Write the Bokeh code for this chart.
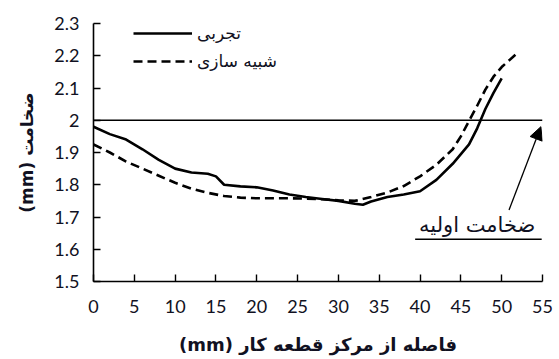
from bokeh.plotting import figure
from bokeh.models import Legend, LegendItem, Arrow, NormalHead, FixedTicker, Range1d
from bokeh.core.properties import value
from bokeh.embed import file_html
from bokeh.resources import INLINE

# ---- data ----
exp_x = [0, 2, 4, 6, 8, 10, 12, 14, 15, 16, 18, 20, 22, 24, 26, 28, 30, 32, 33, 34, 36, 38, 40, 42, 44, 46, 47, 48, 49, 50]
exp_y = [1.98, 1.957, 1.94, 1.91, 1.877, 1.85, 1.838, 1.834, 1.826, 1.800, 1.795, 1.792, 1.782, 1.770, 1.762, 1.756, 1.750, 1.741, 1.738, 1.748, 1.762, 1.770, 1.780, 1.815, 1.865, 1.925, 1.975, 2.035, 2.085, 2.13]

sim_x = [0, 2, 4, 6, 8, 10, 12, 14, 16, 18, 20, 22, 24, 26, 28, 30, 32, 34, 36, 38, 40, 42, 44, 45, 46, 47, 48, 49, 50, 52]
sim_y = [1.925, 1.90, 1.872, 1.85, 1.828, 1.806, 1.788, 1.775, 1.765, 1.760, 1.758, 1.758, 1.758, 1.757, 1.755, 1.752, 1.750, 1.762, 1.776, 1.796, 1.826, 1.862, 1.910, 1.950, 1.998, 2.045, 2.095, 2.135, 2.165, 2.21]

initial_x = [0, 55]
initial_y = [2.0, 2.0]

x_ticks = [0, 5, 10, 15, 20, 25, 30, 35, 40, 45, 50, 55]
y_ticks = [1.5, 1.6, 1.7, 1.8, 1.9, 2.0, 2.1, 2.2, 2.3]
y_tick_labels = {1.5: "1.5", 1.6: "1.6", 1.7: "1.7", 1.8: "1.8", 1.9: "1.9", 2.0: "2", 2.1: "2.1", 2.2: "2.2", 2.3: "2.3"}

label_exp = "تجربی"
label_sim = "شبیه سازی"
note_text = "ضخامت اولیه"
x_title = "(mm) فاصله از مرکز قطعه کار"
y_title = "(mm) ضخامت"

FONT = "Lato"
AFONT = "DejaVu Sans"
TXT = "#111122"

p = figure(width=557, height=357, output_backend="svg", toolbar_location=None,
           x_range=Range1d(0, 55), y_range=Range1d(1.5, 2.3),
           min_border_left=93, min_border_right=15, min_border_top=23, min_border_bottom=72)
p.outline_line_color = None
p.grid.visible = False
p.background_fill_color = "white"

for ax in (p.xaxis[0], p.yaxis[0]):
    ax.axis_line_color = "black"
    ax.axis_line_width = 1.6
    ax.major_tick_line_color = "black"
    ax.major_tick_line_width = 1.4
    ax.major_tick_in = 7
    ax.major_tick_out = 0
    ax.minor_tick_line_color = None
    ax.major_label_text_font = FONT
    ax.major_label_text_font_size = "18px"
    ax.major_label_text_color = TXT
    ax.axis_label_text_font = AFONT
    ax.axis_label_text_font_style = "bold"
    ax.axis_label_text_color = TXT

p.xaxis.axis_label_text_font_size = "18px"
p.yaxis.axis_label_text_font_size = "17px"
p.xaxis.ticker = FixedTicker(ticks=x_ticks)
p.yaxis.ticker = FixedTicker(ticks=y_ticks)
p.yaxis.major_label_overrides = y_tick_labels
p.xaxis.major_label_standoff = 18
p.yaxis.major_label_standoff = 14
p.xaxis.axis_label = x_title
p.yaxis.axis_label = y_title
p.xaxis.axis_label_standoff = 18
p.yaxis.axis_label_standoff = 14

p.line(initial_x, initial_y, line_color="black", line_width=1.6)

r_exp = p.line(exp_x, exp_y, line_color="black", line_width=2.6)
r_sim = p.line(sim_x, sim_y, line_color="black", line_width=2.6, line_dash="9 5")

legend = Legend(items=[LegendItem(label=label_exp, renderers=[r_exp]),
                       LegendItem(label=label_sim, renderers=[r_sim])],
                location=(40, 208), padding=0, margin=0, spacing=4,
                glyph_width=59, glyph_height=24, label_height=24, label_standoff=5,
                label_text_font=AFONT, label_text_font_size="17px", label_text_color=TXT,
                label_text_baseline="middle",
                border_line_color=None, background_fill_color=None)
p.add_layout(legend)

p.add_layout(Arrow(end=NormalHead(size=13, fill_color="black", line_color="black"),
                   x_start=50.9, y_start=1.722, x_end=54.8, y_end=1.98,
                   line_color="black", line_width=1.3))

p.text(x=[47.0], y=[1.675], text=[note_text], text_align="center", text_baseline="middle",
       text_font=value(AFONT), text_font_size="21px", text_color=TXT)
p.line([39.4, 54.9], [1.631, 1.631], line_color="black", line_width=1.5)

open("out.html", "w").write(file_html(p, INLINE))
